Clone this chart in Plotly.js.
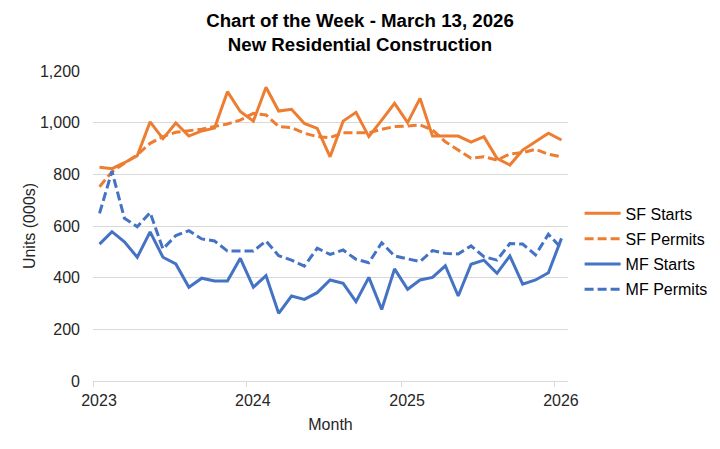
<!DOCTYPE html>
<html>
<head>
<meta charset="utf-8">
<script src="https://cdn.plot.ly/plotly-3.0.1.min.js"></script>
<style>html,body{margin:0;padding:0;background:#fff;}#chart{width:720px;height:449px;}</style>
</head>
<body>
<div id="chart"></div>
<script>
const months = ['2023-01','2023-02','2023-03','2023-04','2023-05','2023-06','2023-07','2023-08','2023-09','2023-10','2023-11','2023-12',
  '2024-01','2024-02','2024-03','2024-04','2024-05','2024-06','2024-07','2024-08','2024-09','2024-10','2024-11','2024-12',
  '2025-01','2025-02','2025-03','2025-04','2025-05','2025-06','2025-07','2025-08','2025-09','2025-10','2025-11','2025-12',
  '2026-01'];
const sfStarts = [827, 822, 845, 872, 1003, 938, 999, 948, 968, 979, 1120, 1043,
  1006, 1137, 1045, 1052, 997, 978, 868, 1006, 1040, 946, 1010, 1075,
  1000, 1094, 948, 948, 948, 925, 946, 862, 836, 894, 926, 959,
  933];
const sfPermits = [752, 810, 843, 875, 920, 946, 963, 968, 975, 985, 995, 1010,
  1036, 1030, 985, 981, 959, 946, 942, 961, 961, 961, 974, 985,
  987, 991, 972, 926, 894, 862, 868, 855, 879, 884, 897, 878,
  868];
const mfStarts = [530, 578, 539, 479, 577, 479, 453, 363, 398, 387, 387, 475,
  363, 408, 262, 329, 316, 342, 391, 378, 307, 401, 277, 434,
  355, 391, 401, 446, 329, 452, 468, 417, 484, 375, 391, 419,
  552];
const mfPermits = [649, 812, 630, 597, 652, 511, 563, 582, 550, 542, 503, 503,
  503, 542, 485, 468, 445, 514, 490, 507, 471, 458, 535, 484,
  472, 462, 505, 494, 492, 523, 481, 468, 532, 530, 488, 568,
  514];
const yearTickVals = ['2023-01-01','2024-01-01','2025-01-01','2026-01-01'];
const yearTickText = ['2023','2024','2025','2026'];
const seriesNames = ['SF Starts','SF Permits','MF Starts','MF Permits'];

const ORANGE = '#ED7D31', BLUE = '#4472C4';
const FONT = 'Liberation Sans, Arial, sans-serif';

function tr(y, name, color, dash) {
  return {
    x: months, y: y, name: name, type: 'scatter', mode: 'lines',
    xperiod: 'M1', xperiodalignment: 'middle',
    line: {color: color, width: 3, dash: dash},
    legendgroup: name, hoverinfo: 'x+y'
  };
}
const data = [
  tr(sfStarts, seriesNames[0], ORANGE, 'solid'),
  tr(sfPermits, seriesNames[1], ORANGE, '9px,4px'),
  tr(mfStarts, seriesNames[2], BLUE, 'solid'),
  tr(mfPermits, seriesNames[3], BLUE, '9px,4px')
];
const layout = {
  width: 720, height: 449,
  margin: {l: 93, r: 152, t: 71, b: 68},
  paper_bgcolor: '#fff', plot_bgcolor: '#fff',
  font: {family: FONT, size: 16, color: '#262626'},
  title: {
    text: '<b>Chart of the Week - March 13, 2026</b><br><b>New Residential Construction</b>',
    font: {family: FONT, size: 18.67, color: '#000'},
    x: 0.5, xref: 'container', xanchor: 'center',
    y: 0.94, yref: 'container', yanchor: 'top'
  },
  xaxis: {
    type: 'date', range: ['2023-01-01', '2026-02-01'],
    tickmode: 'array', tickvals: yearTickVals, ticktext: yearTickText,
    ticks: 'outside', ticklen: 5, tickcolor: '#d9d9d9', tickwidth: 1,
    ticklabelshift: 6,
    showline: true, linecolor: '#d9d9d9', linewidth: 1,
    showgrid: false, zeroline: false,
    tickfont: {size: 16, color: '#262626'},
    title: {text: 'Month', font: {size: 16, color: '#262626'}, standoff: 10}
  },
  yaxis: {
    range: [0, 1200], dtick: 200, tickformat: ',',
    gridcolor: '#d9d9d9', gridwidth: 1, zeroline: false, showline: false,
    ticklabelstandoff: 12,
    tickfont: {size: 16, color: '#262626'},
    title: {text: 'Units (000s)', font: {size: 16, color: '#262626'}, standoff: 0}
  },
  showlegend: true,
  legend: {
    xref: 'container', yref: 'container',
    x: 0.805, xanchor: 'left', y: 0.44, yanchor: 'middle',
    font: {size: 16, color: '#000'},
    tracegroupgap: 1.5, itemwidth: 36,
    bgcolor: 'rgba(0,0,0,0)', borderwidth: 0
  },
  hovermode: false
};
Plotly.newPlot('chart', data, layout, {displayModeBar: false, staticPlot: true});
</script>
</body>
</html>
